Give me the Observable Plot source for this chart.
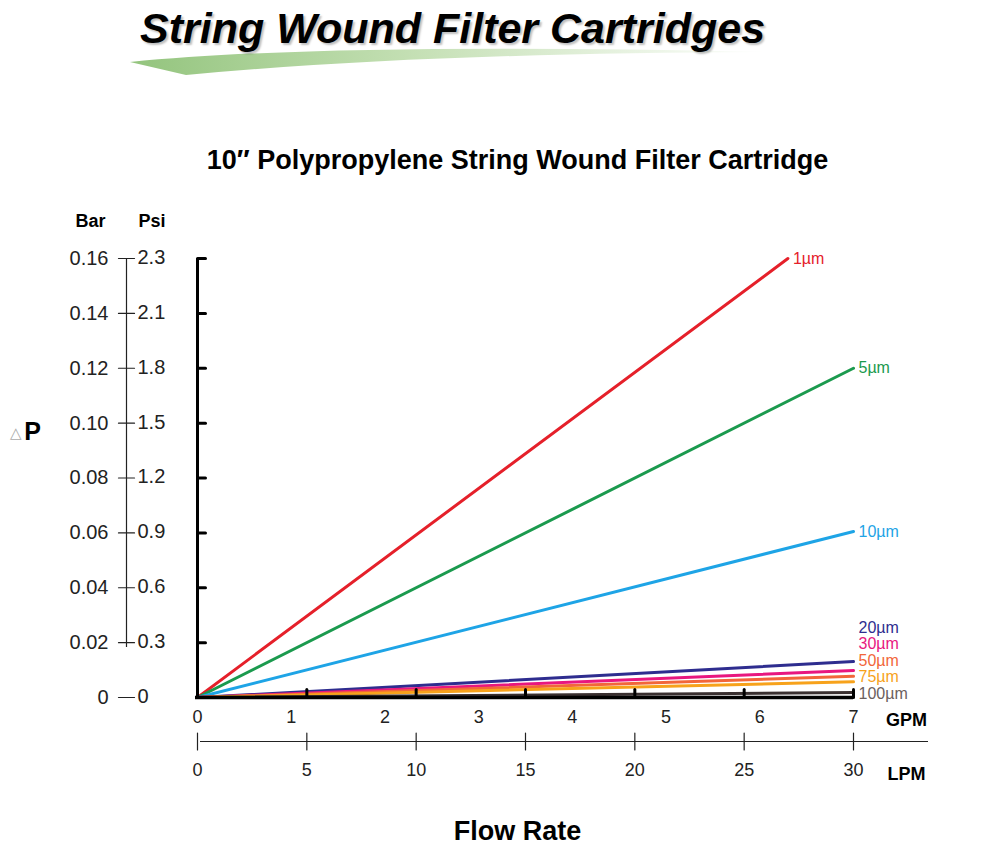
<!DOCTYPE html>
<html>
<head>
<meta charset="utf-8">
<script src="https://cdn.jsdelivr.net/npm/d3@7"></script>
<script src="https://cdn.jsdelivr.net/npm/@observablehq/plot@0.6"></script>
<style>
  html, body { margin: 0; padding: 0; background: #fff; }
  body { width: 1000px; font-family: "Liberation Sans", Arial, sans-serif; }
  #header { position: relative; height: 200px; width: 1000px; }
  #bigtitle { position: absolute; left: 140px; top: 4px; font-size: 43px; font-weight: bold; font-style: italic;
    color: #000; white-space: nowrap; text-shadow: 2px 2px 2px rgba(0,0,0,0.25); z-index: 2; }
  #swoosh { position: absolute; left: 0; top: 0; z-index: 1; }
  #subtitle { position: absolute; left: 0; width: 1035px; top: 145px; text-align: center; font-size: 27px; font-weight: bold; }
  #footer { width: 1035px; text-align: center; font-size: 27px; font-weight: bold; margin-top: 6px; }
  svg { display: block; }
</style>
</head>
<body>
<div id="header">
  <svg id="swoosh" width="1000" height="90">
    <defs>
      <linearGradient id="g" x1="0" x2="1" y1="0" y2="0">
        <stop offset="0" stop-color="#93c47d"/>
        <stop offset="0.45" stop-color="#c5e0b5"/>
        <stop offset="1" stop-color="#ffffff"/>
      </linearGradient>
    </defs>
    <path d="M130,62 Q330,42 770,52 Q420,53 186,75 Z" fill="url(#g)"/>
  </svg>
  <div id="bigtitle">String Wound Filter Cartridges</div>
  <div id="subtitle">10″ Polypropylene String Wound Filter Cartridge</div>
</div>
<div id="chart"></div>
<div id="footer">Flow Rate</div>
<script>
// ---- data ----
const sizes = ["1µm", "5µm", "10µm", "20µm", "30µm", "50µm", "75µm", "100µm"];
const endFlowGPM = [6.3, 7, 7, 7, 7, 7, 7, 7];
const endDropBar = [0.16, 0.12, 0.0605, 0.0131, 0.0098, 0.0077, 0.0057, 0.0018];
const labelBar = [0.16, 0.12, 0.0605, 0.0255, 0.0195, 0.0135, 0.0075, 0.0015];
const colors = ["#e5202a", "#1b9a4e", "#1ea4e6", "#2e2d8f", "#e8177f", "#f2663a", "#f7a21b", "#3a3030"];
const labelColors = ["#e5202a", "#1b9a4e", "#1ea4e6", "#2e2d8f", "#e8177f", "#f2663a", "#f7a21b", "#6b605d"];
const barTicks = [0, 0.02, 0.04, 0.06, 0.08, 0.10, 0.12, 0.14, 0.16];
const barLabels = ["0", "0.02", "0.04", "0.06", "0.08", "0.10", "0.12", "0.14", "0.16"];
const psiLabels = ["0", "0.3", "0.6", "0.9", "1.2", "1.5", "1.8", "2.1", "2.3"];
const gpmTicks = [0, 1, 2, 3, 4, 5, 6, 7];
const lpmTicks = [0, 5, 10, 15, 20, 25, 30];

// ---- tables ----
const lines = [];
sizes.forEach((s, i) => {
  lines.push({size: s, gpm: 0, bar: 0});
  lines.push({size: s, gpm: endFlowGPM[i], bar: endDropBar[i]});
});
const labels = sizes.map((s, i) => ({size: s, gpm: endFlowGPM[i], bar: labelBar[i], color: labelColors[i]}));
const barTable = barTicks.map((b, i) => ({bar: b, barLabel: barLabels[i], psiLabel: psiLabels[i]}));
const lpmToGpm = (l) => l * 7 / 30;

const tickShape = { draw(context, l) { context.moveTo(0, 0); context.lineTo(0, -l); } };

const chart = Plot.plot({
  width: 1000,
  height: 610,
  marginLeft: 197,
  marginRight: 147,
  marginTop: 58,
  marginBottom: 113,
  style: { fontFamily: "'Liberation Sans', Arial, sans-serif", background: "#fff", overflow: "visible" },
  x: { domain: [0, 7], axis: null },
  y: { domain: [0, 0.16], axis: null },
  color: { domain: sizes, range: colors },
  marks: [
    // left Bar / Psi scale
    Plot.ruleX([0], { y1: 0, y2: 0.16, dx: -71, insetTop: -50, stroke: "#222", strokeWidth: 1.2 }),
    Plot.vector(barTable, { x: 0, y: "bar", dx: -71, rotate: 90, length: 16, anchor: "middle", shape: tickShape, stroke: "#222", strokeWidth: 1.2 }),
    Plot.text(barTable, { x: 0, y: "bar", dx: -89, text: "barLabel", textAnchor: "end", fontSize: 20, fill: "#222" }),
    Plot.text(barTable, { x: 0, y: "bar", dx: -60, dy: -1, text: "psiLabel", textAnchor: "start", fontSize: 20, fill: "#222" }),
    Plot.text(["Bar"], { x: 0, y: 0.16, dx: -107, dy: -37, text: d => d, fontSize: 18, fontWeight: "bold" }),
    Plot.text(["Psi"], { x: 0, y: 0.16, dx: -59, dy: -37, text: d => d, textAnchor: "start", fontSize: 18, fontWeight: "bold" }),
    Plot.text(["△"], { x: 0, y: 0.0966, dx: -182, dy: 1, text: d => d, fontSize: 15, fill: "#aaa" }),
    Plot.text(["P"], { x: 0, y: 0.0966, dx: -165, text: d => d, fontSize: 25, fontWeight: "bold" }),

    // series lines
    Plot.line(lines, { x: "gpm", y: "bar", z: "size", stroke: "size", strokeWidth: 3 }),

    // main axes
    Plot.ruleY([0], { x1: 0, x2: 7, stroke: "#000", strokeWidth: 3.5, insetLeft: -2 }),
    Plot.ruleX([0], { y1: 0, y2: 0.16, stroke: "#000", strokeWidth: 3 }),
    Plot.vector(barTicks.filter(d => d > 0), { x: 0, y: d => d, rotate: 90, length: 8, anchor: "start", shape: tickShape, stroke: "#000", strokeWidth: 3 }),
    Plot.vector(lpmTicks.filter(d => d > 0), { x: lpmToGpm, y: 0, rotate: 0, length: 8, anchor: "start", shape: tickShape, stroke: "#000", strokeWidth: 3 }),

    // series labels
    Plot.text(labels, { x: "gpm", y: "bar", text: "size", fill: "color", textAnchor: "start", dx: 5, fontSize: 16 }),

    // GPM axis labels
    Plot.axisX(gpmTicks, { tickSize: 0, tickPadding: 13, fontSize: 18, tickFormat: d => String(d), color: "#222", label: null }),
    Plot.text(["GPM"], { x: 7, y: 0, dx: 53, dy: 23, text: d => d, fontSize: 18, fontWeight: "bold" }),

    // flow axis line with LPM ticks
    Plot.ruleY([0], { x1: 0, x2: 7, dy: 44, insetLeft: 3, insetRight: -75, stroke: "#222", strokeWidth: 1.2 }),
    Plot.vector(lpmTicks, { x: lpmToGpm, y: 0, dy: 44, rotate: 0, length: 17, anchor: "middle", shape: tickShape, stroke: "#222", strokeWidth: 1.2 }),
    Plot.axisX(lpmTicks.map(lpmToGpm), { tickSize: 0, tickPadding: 66, fontSize: 18, tickFormat: d => String(Math.round(d * 30 / 7)), color: "#222", label: null }),
    Plot.text(["LPM"], { x: 7, y: 0, dx: 53, dy: 77, text: d => d, fontSize: 18, fontWeight: "bold" })
  ]
});
document.getElementById("chart").appendChild(chart);
</script>
</body>
</html>
